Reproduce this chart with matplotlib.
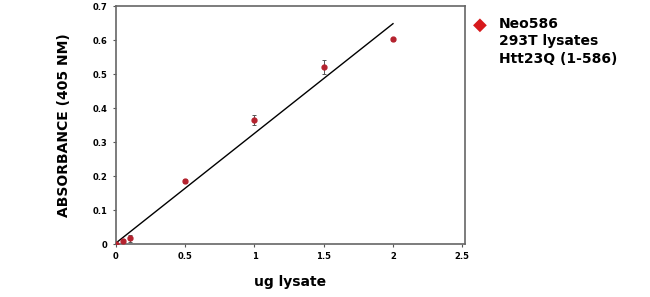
import matplotlib
matplotlib.use("Agg")
import matplotlib.pyplot as plt
import numpy as np

x_vals = [0, 0.05, 0.1, 0.5, 1.0, 1.5, 2.0]
y_vals = [0.0, 0.008, 0.017, 0.185, 0.365, 0.52, 0.602]
y_err = [0.003, 0.006, 0.010, 0.005, 0.015, 0.02, 0.005]
fit_x = [0, 2.0]
fit_y = [0.003, 0.648]
x_ticks = [0, 0.5, 1, 1.5, 2, 2.5]
x_tick_labels = ["0", "0.5", "1", "1.5", "2", "2.5"]
y_ticks = [0, 0.1, 0.2, 0.3, 0.4, 0.5, 0.6, 0.7]
y_tick_labels = ["0", "0.1", "0.2", "0.3", "0.4", "0.5", "0.6", "0.7"]
legend_label = "Neo586\n293T lysates\nHtt23Q (1-586)"

plt.rcParams['font.family'] = ['DejaVu Sans']
fig = plt.figure(figsize=(6.5, 2.97), dpi=100)
ax = fig.add_axes([116/650, 53/297, (465-116)/650, (244-6)/297])

ax.plot(fit_x, fit_y, color='black', lw=1.0, zorder=2)
ax.errorbar(x_vals, y_vals, yerr=y_err, fmt='o', color='#b5222e', ms=3.5,
            ecolor='#555555', elinewidth=0.7, capsize=1.5, capthick=0.7, zorder=3)

ax.set_xlim(0, 2.52)
ax.set_ylim(0, 0.7)
ax.set_xticks(x_ticks)
ax.set_xticklabels(x_tick_labels, fontsize=6, fontweight='bold')
ax.set_yticks(y_ticks)
ax.set_yticklabels(y_tick_labels, fontsize=6, fontweight='bold')
ax.tick_params(length=2, width=0.8, color='#555555', pad=4)
for s in ax.spines.values():
    s.set_color('#666666')
    s.set_linewidth(1.2)

ax.set_xlabel("ug lysate", fontsize=10, fontweight='bold', labelpad=10)
ax.set_ylabel("ABSORBANCE (405 NM)", fontsize=10, fontweight='bold', labelpad=16)

fig.text(480/650, 1 - 25/297, "\u25c6", color='#d7191c', fontsize=13,
         ha='center', va='center')
fig.text(499/650, 1 - 17/297, legend_label, fontsize=10, fontweight='bold',
         ha='left', va='top', linespacing=1.3)

fig.savefig("out.png", dpi=100)
